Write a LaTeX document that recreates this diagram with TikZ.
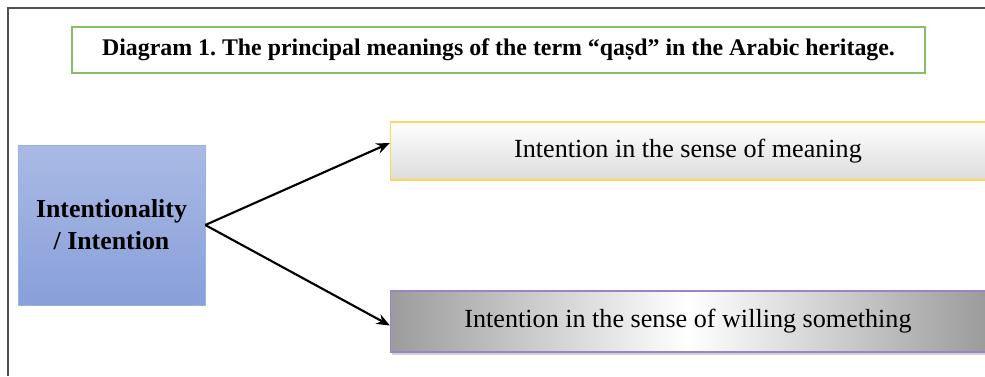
\documentclass[tikz,border=0pt]{standalone}
\usepackage{fontspec}
\setmainfont{Liberation Serif}
\usetikzlibrary{arrows.meta,shadows}
\frenchspacing
\definecolor{framegray}{HTML}{505050}
\definecolor{titlegreen}{HTML}{86C066}
\definecolor{boxblue}{HTML}{7E9ED8}
\definecolor{bluetop}{HTML}{AABAE4}
\definecolor{bluebot}{HTML}{889FD9}
\definecolor{meanyellow}{HTML}{FFD55A}
\definecolor{willpurple}{HTML}{9C84C4}
\begin{document}
\begin{tikzpicture}[x=0.75pt,y=-0.75pt,
  sensebox/.style={minimum width=446.25pt,inner sep=0pt,font=\fontsize{19.6}{22}\selectfont},
  link/.style={-{Stealth[length=10pt,width=8pt]},line width=1.6pt}]
\useasboundingbox (0,0) rectangle (985,376);
\draw[framegray,line width=1pt] (8,376) -- (8,8) -- (986,8); % Outer frame
\node[draw=titlegreen,line width=1.5pt,minimum width=639.75pt,minimum height=34.5pt,
  font=\bfseries\fontsize{17.9}{20}\selectfont] (title) at (498.5,50)
  {Diagram 1. The principal meanings of the term \char"201C qa\d{s}d\char"201D{} in the Arabic heritage.};
\node[draw=boxblue!80,top color=bluetop,bottom color=bluebot,minimum width=140.25pt,minimum height=120pt,
  align=center,font=\bfseries\fontsize{19.4}{24}\selectfont] (intent) at (111.5,225)
  {Intentionality\\/ Intention}; % Left block
\node[sensebox,draw=meanyellow,line width=1pt,top color=white,bottom color=gray!28,minimum height=43.5pt]
  (meaning) at (688,151) {Intention in the sense of meaning}; % Upper block
\node[sensebox,draw=willpurple,line width=1pt,left color=gray!78,right color=gray!78,middle color=white,
  minimum height=45.75pt,drop shadow={shadow xshift=1pt,shadow yshift=-2.5pt,opacity=0.35}]
  (willing) at (688,321.5) {Intention in the sense of willing something}; % Lower block
\draw[link] (intent.east) -- ([yshift=6pt]meaning.west);
\draw[link] (intent.east) -- ([yshift=-3pt]willing.west);
\end{tikzpicture}
\end{document}
